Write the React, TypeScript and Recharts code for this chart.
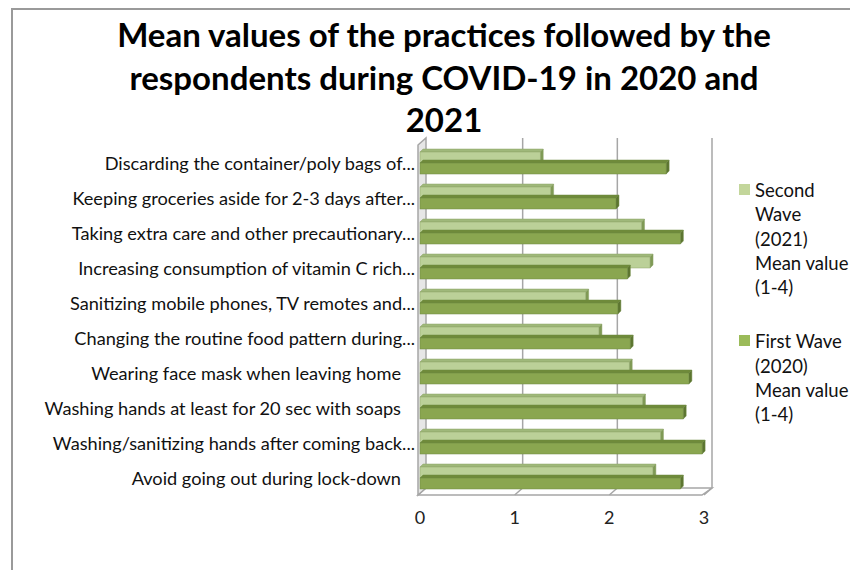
import React from "react";
import { BarChart, Bar, XAxis, YAxis, CartesianGrid } from "recharts";

const categories = [
  "Discarding the container/poly bags of...",
  "Keeping groceries aside for 2-3 days after...",
  "Taking extra care and other precautionary...",
  "Increasing consumption of vitamin C rich...",
  "Sanitizing mobile phones, TV remotes and...",
  "Changing the routine food pattern during...",
  "Wearing face mask when leaving home",
  "Washing hands at least for 20 sec with soaps",
  "Washing/sanitizing hands after coming back...",
  "Avoid going out during lock-down",
];
const secondWave = [1.27, 1.38, 2.34, 2.43, 1.75, 1.89, 2.21, 2.35, 2.54, 2.46];
const firstWave = [2.6, 2.07, 2.75, 2.19, 2.09, 2.22, 2.84, 2.78, 2.98, 2.75];
const xTicks = [0, 1, 2, 3];
const secondName = "Second\nWave\n(2021)\nMean value\n(1-4)";
const firstName = "First Wave\n(2020)\nMean value\n(1-4)";
const titleLines = [
  "Mean values of the practices followed by the",
  "respondents during COVID-19 in 2020 and",
  "2021",
];

const data = categories.map((c, i) => ({ name: c, second: secondWave[i], first: firstWave[i] }));

const FONT = "Lato, 'Liberation Sans', sans-serif";
const DX = 8;
const DY = 7;
const LIGHT = "#C3D69B";
const DARK = "#9BBB59";

const make3DBar = (front: string, top: string, side: string, edge: string) => (props: any) => {
  const { x, y, width, height } = props;
  if (width == null || width <= 0) return <g />;
  const d = 3;
  return (
    <g>
      <polygon
        points={`${x},${y} ${x + d},${y - d} ${x + width + d},${y - d} ${x + width},${y}`}
        fill={top}
        stroke={edge}
        strokeWidth={0.5}
      />
      <polygon
        points={`${x + width},${y} ${x + width + d},${y - d} ${x + width + d},${y + height - d} ${x + width},${y + height}`}
        fill={side}
        stroke={edge}
        strokeWidth={0.5}
      />
      <rect x={x} y={y} width={width} height={height} fill={front} stroke={edge} strokeWidth={0.5} />
    </g>
  );
};

const LightBar = make3DBar("#BBD098", "#9fb87a", "#7f9a55", "#8ea46a");
const DarkBar = make3DBar("#8AA650", "#6f8a3a", "#5c7530", "#6d8840");

const GridLine = (props: any) => {
  const { x1, y1, y2, index, x, width } = props;
  const key = `g-${index}`;
  if (index === 0) {
    const px = typeof x === "number" ? x : x1;
    const pw = typeof width === "number" ? width : 284;
    return (
      <g key={key}>
        <polygon
          points={`${px - 2},${y2} ${px + pw - 2},${y2} ${px + pw + DX},${y2 - DY} ${px - 2 + DX},${y2 - DY}`}
          fill="#ffffff"
          stroke="#a6a6a6"
          strokeWidth={1.5}
        />
        <polygon
          points={`${px - 2},${y1} ${px - 2 + DX},${y1 - DY} ${px - 2 + DX},${y2 - DY} ${px - 2},${y2}`}
          fill="#e6e6e6"
          stroke="#a6a6a6"
          strokeWidth={1.5}
        />
      </g>
    );
  }
  return (
    <polyline
      key={key}
      points={`${x1 + DX},${y1 - DY} ${x1 + DX},${y2 - DY} ${x1},${y2}`}
      fill="none"
      stroke="#a6a6a6"
      strokeWidth={1.5}
    />
  );
};

const CategoryTick = (props: any) => {
  const { y, payload } = props;
  const label: string = payload.value;
  const truncated = label.endsWith("...");
  return (
    <text
      x={truncated ? 415 : 401}
      y={y}
      textAnchor="end"
      dominantBaseline="central"
      fill="#111"
      fontSize={18.2}
      fontFamily={FONT}
    >
      {label}
    </text>
  );
};

const legendItems = [
  { name: secondName, color: LIGHT },
  { name: firstName, color: DARK },
];

export default function App() {
  return (
    <div
      style={{
        position: "fixed",
        left: 0,
        top: 0,
        width: 850,
        height: 570,
        overflow: "hidden",
        background: "#fff",
      }}
    >
      <div
        style={{
          position: "absolute",
          left: 11,
          top: 8,
          width: 900,
          height: 600,
          border: "2px solid #9a9a9a",
        }}
      />
      <div
        style={{
          position: "absolute",
          left: 0,
          top: 13,
          width: 888,
          textAlign: "center",
          fontFamily: FONT,
          fontWeight: 700,
          fontSize: 33,
          lineHeight: "42.5px",
          color: "#000",
        }}
      >
        {titleLines.map((l, i) => (
          <div key={i}>{l}</div>
        ))}
      </div>
      <div style={{ position: "absolute", left: 0, top: 0 }}>
        <BarChart
          width={850}
          height={570}
          data={data}
          layout="vertical"
          margin={{ top: 145, right: 146, bottom: 35, left: 0 }}
          barGap={0}
          barSize={11}
        >
          <CartesianGrid horizontal={false} vertical={GridLine as any} />
          <XAxis
            type="number"
            domain={[0, 3]}
            ticks={xTicks}
            axisLine={false}
            tickLine={false}
            tickMargin={10}
            height={40}
            tick={{ fontSize: 18, fill: "#222", fontFamily: FONT }}
          />
          <YAxis
            type="category"
            dataKey="name"
            width={420}
            axisLine={false}
            tickLine={false}
            interval={0}
            tick={<CategoryTick />}
          />
          <Bar dataKey="second" name={secondName} fill={LIGHT} shape={LightBar} isAnimationActive={false} />
          <Bar dataKey="first" name={firstName} fill={DARK} shape={DarkBar} isAnimationActive={false} />
        </BarChart>
      </div>
      <div
        style={{
          position: "absolute",
          left: 739,
          top: 178,
          width: 111,
          fontFamily: FONT,
          fontSize: 18.5,
          color: "#111",
          lineHeight: "24.3px",
        }}
      >
        {legendItems.map((p, i) => (
          <div key={i} style={{ display: "flex", alignItems: "flex-start", marginBottom: 30 }}>
            <div
              style={{ width: 11, height: 11, background: p.color, marginTop: 6, marginRight: 5, flex: "none" }}
            />
            <div style={{ whiteSpace: "pre-line" }}>{p.name}</div>
          </div>
        ))}
      </div>
    </div>
  );
}
